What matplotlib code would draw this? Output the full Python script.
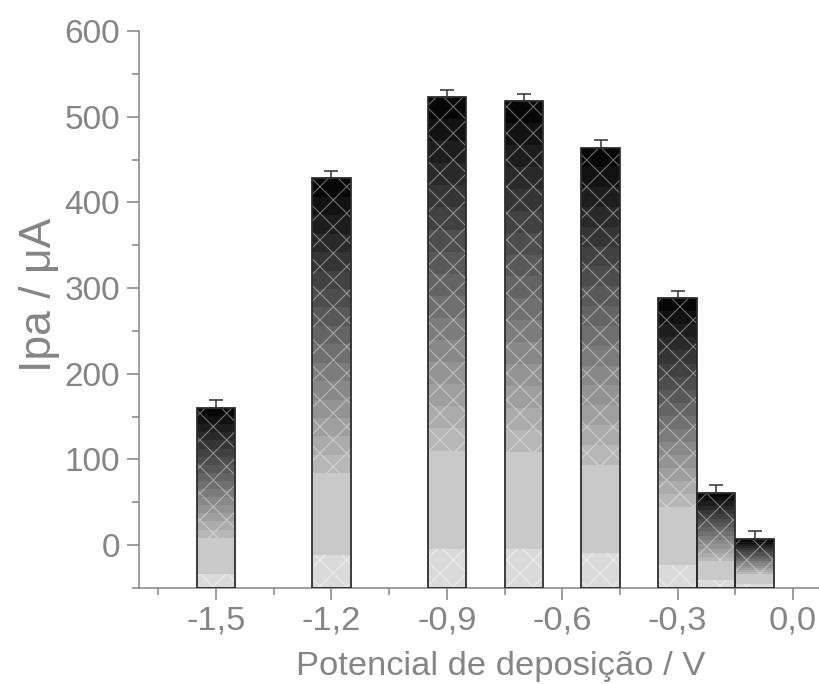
import numpy as np
import matplotlib
matplotlib.use('Agg')
import matplotlib.pyplot as plt

# ---- data ----
potentials = [-1.5, -1.2, -0.9, -0.7, -0.5, -0.3, -0.2, -0.1]
ipa = [160, 428, 523, 518, 464, 288, 61, 7]
ipa_err = [9, 9, 8, 9, 9, 9, 9, 9]
xtick_vals = [-1.5, -1.2, -0.9, -0.6, -0.3, 0.0]
xtick_labels = ['-1,5', '-1,2', '-0,9', '-0,6', '-0,3', '0,0']
ytick_vals = [0, 100, 200, 300, 400, 500, 600]
ytick_labels = ['0', '100', '200', '300', '400', '500', '600']
xlabel = 'Potencial de deposição / V'
ylabel = 'Ipa / μA'

DPI = 80
plt.rcParams['font.family'] = ['Liberation Sans', 'DejaVu Sans']
plt.rcParams['hatch.linewidth'] = 1.0

fig = plt.figure(figsize=(819 / DPI, 684 / DPI), dpi=DPI)
ax = fig.add_axes([139 / 819, 96 / 684, 681 / 819, 557 / 684])

GRAY = '#858585'
base = -50
width = 0.1
nb = 16

for x, v in zip(potentials, ipa):
    h = v - base
    # bottom light hatched zone
    ax.bar(x, 0.08 * h, bottom=base, width=width, color='#dadada',
           edgecolor='#ebebeb', linewidth=0, hatch='x', zorder=2)
    # solid light gray zone
    ax.bar(x, 0.20 * h, bottom=base + 0.08 * h, width=width, color='#c9c9c9',
           linewidth=0, zorder=2)
    # gradient zone
    start = 0.28
    seg = (1 - start) / nb
    for i in range(nb):
        t = (i + 0.5) / nb
        g = 0.74 * (1 - t)
        hc = g + 0.40 * (1 - g)
        ax.bar(x, seg * h * 1.001, bottom=base + (start + i * seg) * h, width=width,
               color=(g, g, g), edgecolor=(hc, hc, hc), linewidth=0,
               hatch='x', zorder=2)
    ax.bar(x, h, bottom=base, width=width, fill=False, edgecolor='#2b2b2b',
           linewidth=1.6, zorder=3)

ax.errorbar(potentials, ipa, yerr=[np.zeros(len(ipa)), ipa_err], fmt='none',
            ecolor='#333333', elinewidth=1.4, capsize=6, capthick=1.4, zorder=4)

ax.set_xlim(-1.7, 0.07)
ax.set_ylim(-50, 600)

for s in ['top', 'right']:
    ax.spines[s].set_visible(False)
for s in ['left', 'bottom']:
    ax.spines[s].set_color(GRAY)
    ax.spines[s].set_linewidth(1.4)

ax.set_xticks(xtick_vals)
ax.set_xticklabels(xtick_labels)
ax.set_xticks(np.arange(-1.65, 0.06, 0.3), minor=True)
ax.set_yticks(ytick_vals)
ax.set_yticklabels(ytick_labels)
ax.set_yticks(np.arange(-50, 600, 100), minor=True)

ax.tick_params(axis='both', which='major', length=11, width=1.4, color=GRAY,
               labelcolor=GRAY, direction='out')
ax.tick_params(axis='both', which='minor', length=6, width=1.4, color=GRAY,
               direction='out')
ax.tick_params(axis='x', which='major', labelsize=31, pad=5)
ax.tick_params(axis='y', which='major', labelsize=30, pad=6)

fig.text(501 / 819, 1 - 666 / 684, xlabel, ha='center', va='center',
         fontsize=31, color=GRAY)
fig.text(40 / 819, 1 - 295 / 684, ylabel, ha='center', va='center',
         fontsize=40, color=GRAY, rotation=90)

fig.savefig('out.png', dpi=DPI)
